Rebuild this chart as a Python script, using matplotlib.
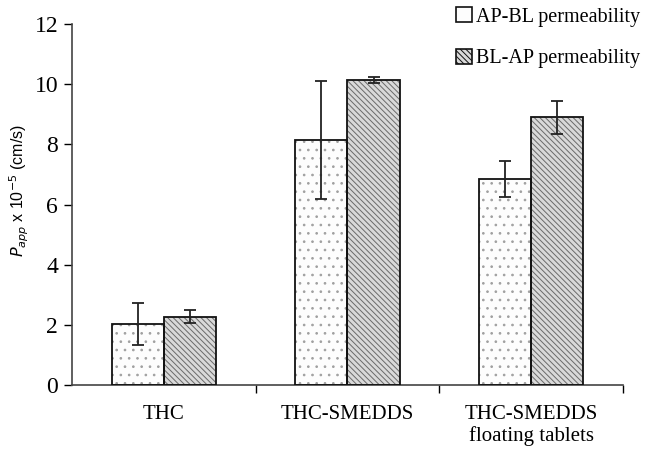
import matplotlib
matplotlib.use("Agg")
import matplotlib.pyplot as plt
import numpy as np
from matplotlib.patches import Patch

categories = ["THC", "THC-SMEDDS", "THC-SMEDDS\nfloating tablets"]
series_names = ["AP-BL permeability", "BL-AP permeability"]
ap_bl = [2.02, 8.15, 6.85]
ap_bl_err = [0.70, 1.95, 0.60]
bl_ap = [2.28, 10.15, 8.90]
bl_ap_err = [0.22, 0.10, 0.55]
yticks = [0, 2, 4, 6, 8, 10, 12]

plt.rcParams['font.family'] = ['Liberation Serif', 'DejaVu Serif']
plt.rcParams['hatch.linewidth'] = 0.7

fig = plt.figure(figsize=(6.55, 4.51), dpi=100)
ax = fig.add_axes([0.110, 0.146, 0.841, 0.801])

x = np.arange(len(categories))
w = 0.285
ekw = dict(ecolor='#222222', elinewidth=1.3, capsize=4, capthick=1.3)

# hatch layers (grey hatching)
ax.bar(x - w/2, ap_bl, w, color='#fdfdfd', edgecolor='#a0a0a0', linewidth=0, hatch='..', zorder=2)
ax.bar(x + w/2, bl_ap, w, color='#d9d9d9', edgecolor='#6a6a6a', linewidth=0, hatch='\\\\\\\\\\\\', zorder=2)
# outlines + error bars
b1 = ax.bar(x - w/2, ap_bl, w, color='none', edgecolor='#111111', linewidth=1.3,
            yerr=ap_bl_err, error_kw=ekw, zorder=3)
b2 = ax.bar(x + w/2, bl_ap, w, color='none', edgecolor='#111111', linewidth=1.3,
            yerr=bl_ap_err, error_kw=ekw, zorder=3)

ax.set_xlim(-0.5, 2.5)
ax.set_ylim(0, 12)
ax.set_yticks(yticks)
ax.tick_params(axis='y', labelsize=17, direction='out', length=6, width=1, pad=4)
ax.set_xticks(x)
ax.set_xticklabels(categories, fontsize=15)
ax.tick_params(axis='x', which='major', length=0, pad=14)
ax.set_xticks([0.5, 1.5, 2.5], minor=True)
ax.tick_params(axis='x', which='minor', length=6, width=1, direction='out')
for s in ['top', 'right']:
    ax.spines[s].set_visible(False)
for s in ['left', 'bottom']:
    ax.spines[s].set_color('#444444')
    ax.spines[s].set_linewidth(1.2)

ax.set_ylabel(r'$P_{app}$' + r' x 10$^{-5}$ (cm/s)', fontsize=11.5, family='Liberation Sans')
ax.yaxis.set_label_coords(-0.074, 0.54)

h1 = Patch(facecolor='#fdfdfd', edgecolor='#111111', linewidth=1.2, label=series_names[0])
h2 = Patch(facecolor='#d9d9d9', edgecolor='#111111', linewidth=1.2, hatch='\\\\\\\\\\\\', label=series_names[1])
leg = fig.legend(handles=[h1, h2], loc='upper right', bbox_to_anchor=(1.005, 1.025), frameon=False,
                 fontsize=14.5, handlelength=0.8, handleheight=0.8, handletextpad=0.2, labelspacing=1.1)

fig.savefig("out.png", dpi=100)
